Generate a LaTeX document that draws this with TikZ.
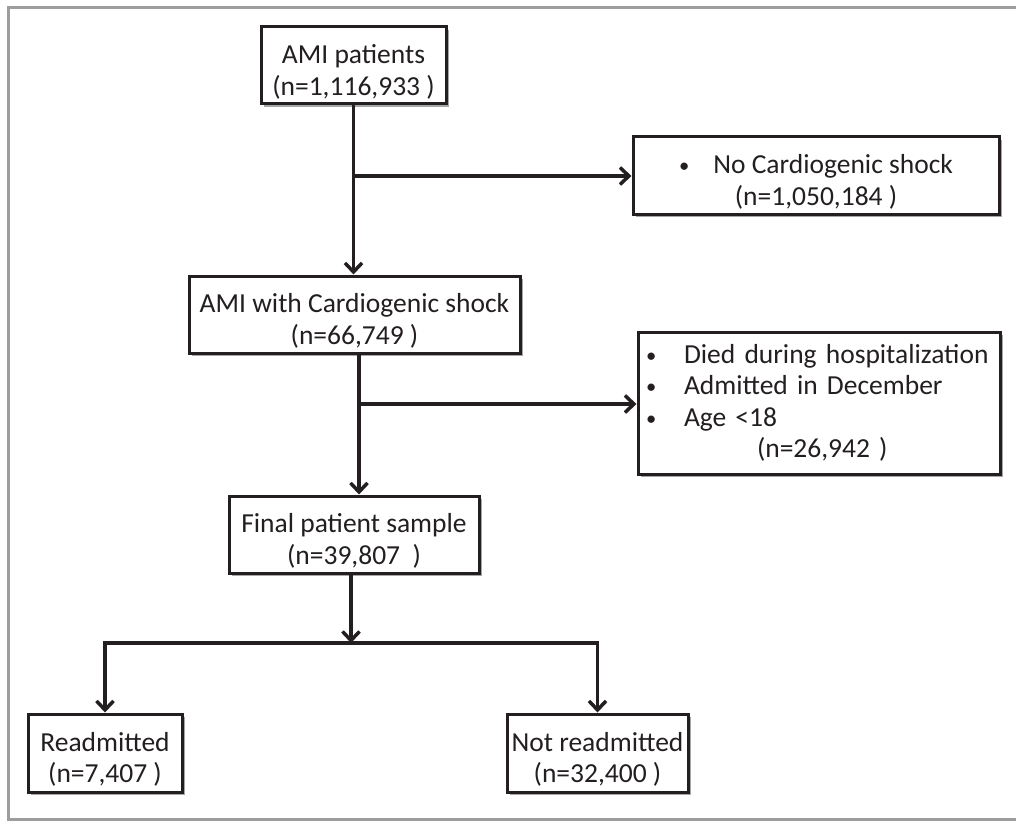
\documentclass[tikz,border=0pt]{standalone}
\usepackage{fontspec}
\setmainfont{Carlito}
\usetikzlibrary{arrows.meta,shadows,calc}
\definecolor{framegray}{HTML}{9D9D9D}
\definecolor{ink}{HTML}{231F20}
\newcommand\mybul{\raisebox{1pt}{\scalebox{0.75}{\textbullet}}}
\newcommand\tops{\rule{0pt}{32pt}}
\begin{document}
\begin{tikzpicture}[x=1pt,y=-1pt,
  box/.style={draw=ink, line width=3pt, fill=white, align=center, inner sep=0pt, text=ink,
    font=\fontsize{27.5}{31.5}\selectfont,
    drop shadow={shadow xshift=3pt, shadow yshift=-3pt, opacity=0.35, fill=black}},
  conn/.style={draw=ink, line width=3.5pt},
  arr/.style={conn, -{Straight Barb[length=9pt,width=17pt]}}
]
\useasboundingbox (0,0) rectangle (1016,821);
\draw[framegray, line width=3pt] (1017,8) -- (8,8) -- (8,819) -- (1017,819);

\node[box, minimum width=185pt, minimum height=77pt] (b1) at (353.5,65.5) {\tops AMI patients\\(n=1,116,933 )};
\node[box, minimum width=366pt, minimum height=77pt] (b3) at (816,175.5) {\tops\mybul\hspace{24pt}No Cardiogenic shock\\(n=1,050,184 )};
\node[box, minimum width=331pt, minimum height=77pt] (b2) at (354.5,314.5) {\tops AMI with Cardiogenic shock\\(n=66,749 )};
\node[box, text width=346pt, inner xsep=8pt, align=left, minimum height=142pt] (b4) at (819,403)
  {\mbox{\makebox[38pt][l]{\mybul}Died during hospitalization}\\
   \mbox{\makebox[38pt][l]{\mybul}Admitted in December}\\
   \mbox{\makebox[38pt][l]{\mybul}Age <18}\\
   \mbox{\hspace*{111pt}(n=26,942 )}};
\node[box, minimum width=250pt, minimum height=77pt] (b5) at (354,534.5) {\tops Final patient sample\\(n=39,807\ \ )};
\node[box, minimum width=154pt, minimum height=78pt] (b6) at (105,753) {\tops Readmitted\\(n=7,407 )};
\node[box, minimum width=181pt, minimum height=78pt] (b7) at (597.5,753) {\tops Not readmitted\\(n=32,400 )};

\coordinate (j1) at (354,176);
\coordinate (j2) at (359,404);
\coordinate (j3) at (351,643);

\draw[arr] (b1.south) -- (b1.south |- b2.north);
\draw[arr] (j1) -- (j1 -| b3.west);
\draw[arr] (b2.south -| j2) -- (b5.north -| j2);
\draw[arr] (j2) -- (j2 -| b4.west);
\draw[arr] (b5.south -| j3) -- (j3);
\draw[arr] (j3) -| (b6.north);
\draw[arr] (j3) -| (b7.north);
\end{tikzpicture}
\end{document}
